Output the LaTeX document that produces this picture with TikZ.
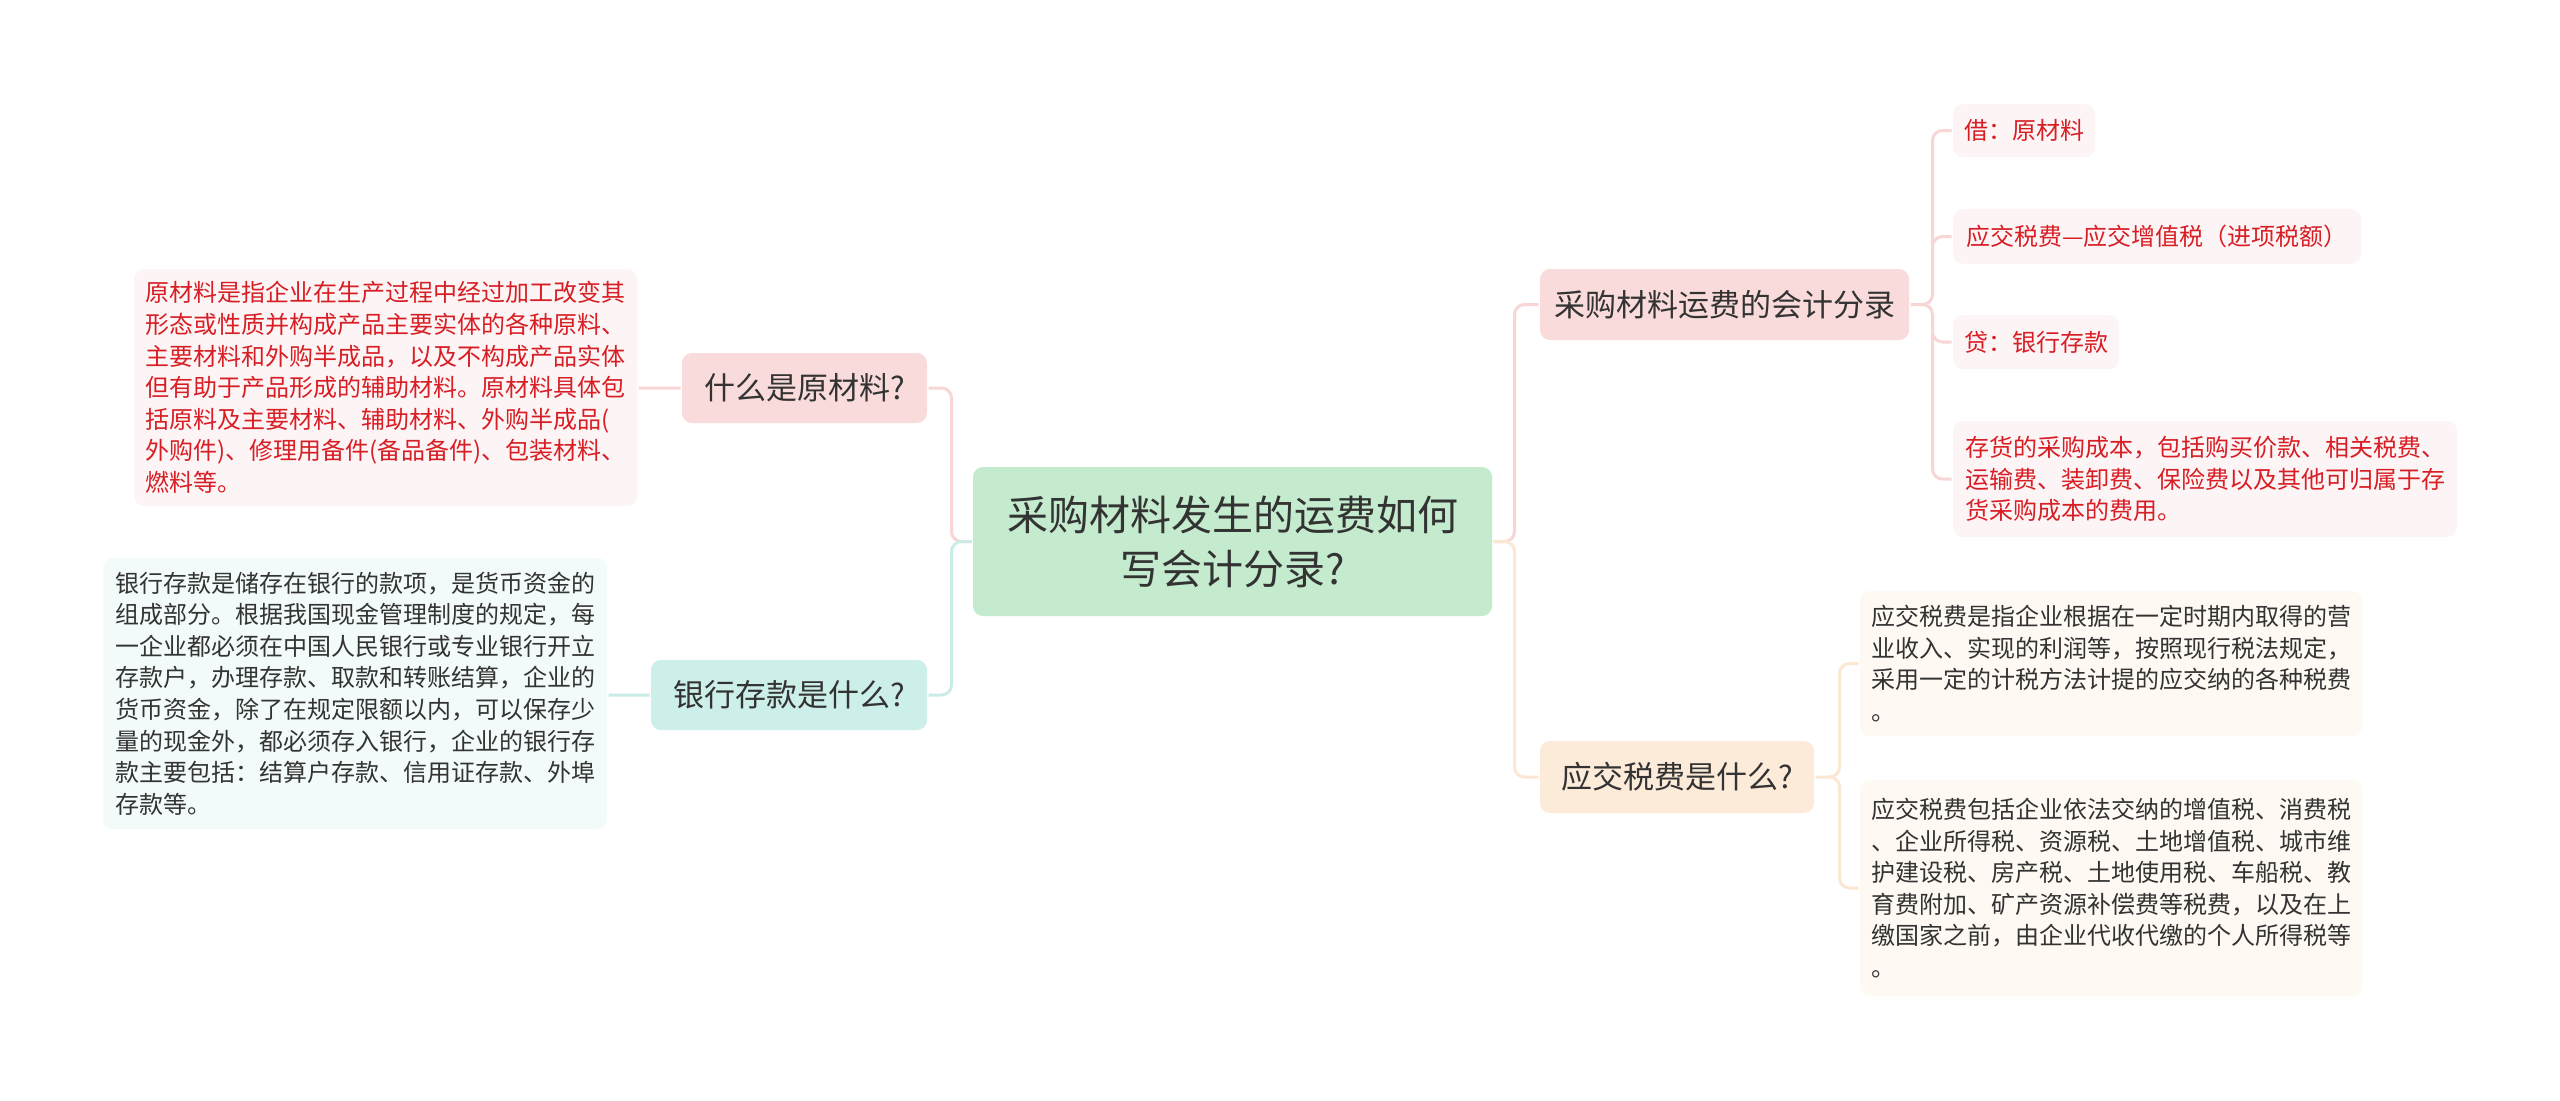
\documentclass[tikz,border=0pt]{standalone}
\usepackage{fontspec}
\setmainfont{Noto Sans CJK SC}
\usepackage{tikz}
\usetikzlibrary{arrows}

\definecolor{rootfill}{HTML}{C4EBCD}
\definecolor{pinkfill}{HTML}{FADBDB}
\definecolor{tealfill}{HTML}{CCEFE9}
\definecolor{orangefill}{HTML}{FDEBDA}
\definecolor{pinkleaf}{HTML}{FDF5F5}
\definecolor{tealleaf}{HTML}{F3FAFA}
\definecolor{orangeleaf}{HTML}{FEF9F3}
\definecolor{pinkline}{HTML}{F8D6D6}
\definecolor{tealline}{HTML}{C9ECE6}
\definecolor{orangeline}{HTML}{FCE7D3}
\definecolor{darktext}{HTML}{333333}
\definecolor{redtext}{HTML}{D81E25}

\begin{document}
\begin{tikzpicture}[x=0.5pt,y=-0.5pt,line width=1.5pt,rounded corners=5pt,
  root/.style={fill=rootfill,text=darktext,align=center,inner sep=0pt,
    font=\fontsize{20.5}{27}\selectfont},
  topic/.style={text=darktext,inner sep=0pt,font=\fontsize{15.5}{20}\selectfont},
  leaf/.style={align=left,inner sep=0pt,font=\fontsize{12}{15.8}\selectfont},
  redleaf/.style={leaf,fill=pinkleaf,text=redtext}]

\useasboundingbox[fill=white] (0,0) rectangle (2560,1100);

% centre
\node[root,minimum width=259.5pt,minimum height=74.5pt] (A) at (1232.5,541.5)
  {采购材料发生的运费如何\\写会计分录?};

% left side
\node[topic,fill=pinkfill,minimum width=122.5pt,minimum height=35pt] (B) at (804.5,388) {什么是原材料?};
\node[topic,fill=tealfill,minimum width=138pt,minimum height=35pt] (C) at (789,695) {银行存款是什么?};
\node[redleaf,minimum width=251.5pt,minimum height=118.5pt] (D) at (385.5,387.5)
  {原材料是指企业在生产过程中经过加工改变其\\形态或性质并构成产品主要实体的各种原料、\\主要材料和外购半成品，以及不构成产品实体\\但有助于产品形成的辅助材料。原材料具体包\\括原料及主要材料、辅助材料、外购半成品(\\外购件)、修理用备件(备品备件)、包装材料、\\燃料等。};
\node[leaf,fill=tealleaf,text=darktext,minimum width=252pt,minimum height=135.5pt] (E) at (355,693.5)
  {银行存款是储存在银行的款项，是货币资金的\\组成部分。根据我国现金管理制度的规定，每\\一企业都必须在中国人民银行或专业银行开立\\存款户，办理存款、取款和转账结算，企业的\\货币资金，除了在规定限额以内，可以保存少\\量的现金外，都必须存入银行，企业的银行存\\款主要包括：结算户存款、信用证存款、外埠\\存款等。};

% right side
\node[topic,fill=pinkfill,minimum width=184.5pt,minimum height=35.5pt] (F) at (1724.5,304.5) {采购材料运费的会计分录};
\node[redleaf,minimum width=71pt,minimum height=26.5pt] (G) at (2024,130.5) {借：原材料};
\node[redleaf,minimum width=204pt,minimum height=27.5pt] (H) at (2157,236.5) {应交税费—应交增值税（进项税额）};
\node[redleaf,minimum width=83pt,minimum height=27pt] (I) at (2036,342) {贷：银行存款};
\node[redleaf,minimum width=252pt,minimum height=58pt] (J) at (2205,479)
  {存货的采购成本，包括购买价款、相关税费、\\运输费、装卸费、保险费以及其他可归属于存\\货采购成本的费用。};

\node[topic,fill=orangefill,minimum width=137pt,minimum height=36pt] (K) at (1677,777) {应交税费是什么?};
\node[leaf,fill=orangeleaf,text=darktext,minimum width=251pt,minimum height=72.5pt] (L) at (2111,663.5)
  {应交税费是指企业根据在一定时期内取得的营\\业收入、实现的利润等，按照现行税法规定，\\采用一定的计税方法计提的应交纳的各种税费\\。};
\node[leaf,fill=orangeleaf,text=darktext,minimum width=251pt,minimum height=108pt] (M) at (2111,888)
  {应交税费包括企业依法交纳的增值税、消费税\\、企业所得税、资源税、土地增值税、城市维\\护建设税、房产税、土地使用税、车船税、教\\育费附加、矿产资源补偿费等税费，以及在上\\缴国家之前，由企业代收代缴的个人所得税等\\。};

% connectors
\draw[pinkline] (A.west) -- ++(-20,0) |- (B.east)
                (B.west) -- (B.west -| D.east)
                (A.east) -- ++(21,0) |- (F.west)
                (F.east) -- ++(22,0) |- (G.west)
                (F.east) -- ++(22,0) |- (H.west)
                (F.east) -- ++(22,0) |- (I.west)
                (F.east) -- ++(22,0) |- (J.west);
\draw[tealline] (A.west) -- ++(-20,0) |- (C.east)
                (C.west) -- (C.west -| E.east);
\draw[orangeline] (A.east) -- ++(21,0) |- (K.west)
                (K.east) -- ++(24,0) |- (L.west)
                (K.east) -- ++(24,0) |- (M.west);
\end{tikzpicture}
\end{document}
